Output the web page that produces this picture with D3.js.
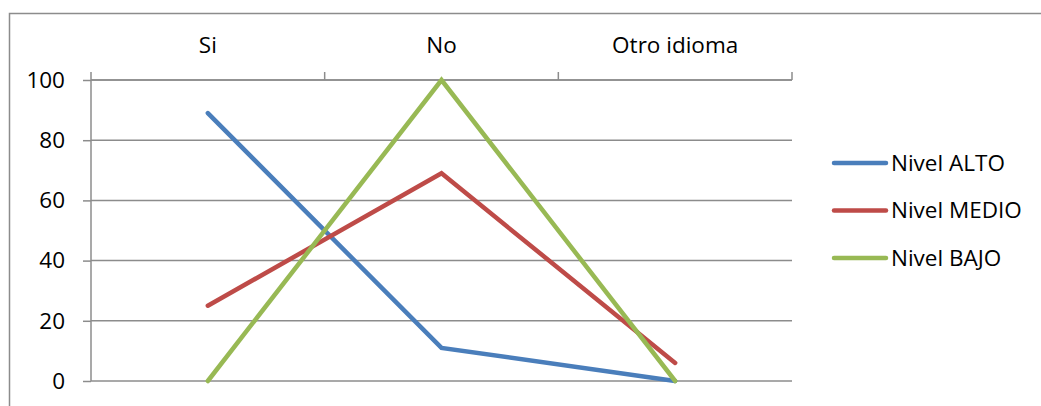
<!DOCTYPE html>
<html>
<head>
<meta charset="utf-8">
<script src="https://cdn.jsdelivr.net/npm/d3@7"></script>
<style>
  html, body { margin: 0; padding: 0; background: #fff; }
  svg { display: block; font-family: "Open Sans", Lato, sans-serif; }
</style>
</head>
<body>
<svg id="chart" width="1041" height="406"></svg>
<script>
// Categories along the (top) x axis
const categories = ["Si", "No", "Otro idioma"];
// Series values (percent)
const nivelAlto  = [89, 11, 0];
const nivelMedio = [25, 69, 6];
const nivelBajo  = [0, 100, 0];
const seriesNames = ["Nivel ALTO", "Nivel MEDIO", "Nivel BAJO"];
const yTicks = [0, 20, 40, 60, 80, 100];

const series = [
  { name: seriesNames[0], values: nivelAlto,  color: "#4a7ebb" },
  { name: seriesNames[1], values: nivelMedio, color: "#be4b48" },
  { name: seriesNames[2], values: nivelBajo,  color: "#98b954" }
];

const svg = d3.select("#chart");
const gridColor = "#8c8c8c";
const fontFamily = "'Open Sans', Lato, sans-serif";
const fontSize = 22.5;

// Outer chart frame (runs off the right and bottom edges)
svg.append("rect")
  .attr("x", 9.5).attr("y", 13.5)
  .attr("width", 1100).attr("height", 500)
  .attr("fill", "none").attr("stroke", gridColor).attr("stroke-width", 1.5);

const plot = { left: 91, right: 792, top: 80, bottom: 381 };

const x = d3.scaleBand().domain(categories).range([plot.left, plot.right]).padding(0);
const y = d3.scaleLinear().domain([0, 100]).range([plot.bottom, plot.top]);

// Horizontal gridlines
svg.append("g")
  .selectAll("line")
  .data(yTicks)
  .join("line")
  .attr("x1", plot.left).attr("x2", plot.right)
  .attr("y1", d => y(d)).attr("y2", d => y(d))
  .attr("stroke", gridColor).attr("stroke-width", 1.5);

// Y axis
const yAxis = svg.append("g")
  .attr("transform", `translate(${plot.left},0)`)
  .call(d3.axisLeft(y).tickValues(yTicks).tickSize(8).tickPadding(18));
yAxis.selectAll("path, line").attr("stroke", gridColor).attr("stroke-width", 1.5);
yAxis.select(".domain").attr("d", `M0,${plot.bottom}V${plot.top}`);
yAxis.selectAll("text").attr("font-size", fontSize).attr("fill", "#000")
  .attr("font-family", fontFamily);

// X axis on top, ticks at band boundaries
const xAxis = svg.append("g")
  .attr("transform", `translate(0,${plot.top})`)
  .call(d3.axisTop(x).tickSize(0).tickPadding(27));
xAxis.select(".domain").attr("stroke", gridColor).attr("stroke-width", 1.5)
  .attr("d", `M${plot.left},0H${plot.right}`);
xAxis.selectAll("text").attr("font-size", fontSize).attr("fill", "#000")
  .attr("font-family", fontFamily);
const bounds = categories.map(c => x(c)).concat([x(categories[categories.length - 1]) + x.bandwidth()]);
xAxis.append("g").selectAll("line")
  .data(bounds)
  .join("line")
  .attr("x1", d => d).attr("x2", d => d)
  .attr("y1", 0).attr("y2", -8)
  .attr("stroke", gridColor).attr("stroke-width", 1.5);

// Series lines
const line = d3.line()
  .x((d, i) => x(categories[i]) + x.bandwidth() / 2)
  .y(d => y(d));

svg.append("g")
  .selectAll("path")
  .data(series)
  .join("path")
  .attr("d", d => line(d.values))
  .attr("fill", "none")
  .attr("stroke", d => d.color)
  .attr("stroke-width", 4.5)
  .attr("stroke-linecap", "round")
  .attr("stroke-linejoin", "miter");

// Legend
const legend = svg.append("g").attr("transform", "translate(832,163)");
const item = legend.selectAll("g")
  .data(series)
  .join("g")
  .attr("transform", (d, i) => `translate(0,${i * 47.5})`);
item.append("line")
  .attr("x1", 2).attr("x2", 54).attr("y1", 0).attr("y2", 0)
  .attr("stroke", d => d.color).attr("stroke-width", 4.5)
  .attr("stroke-linecap", "round");
item.append("text")
  .attr("x", 59).attr("y", 0).attr("dy", "0.35em")
  .attr("font-size", fontSize).attr("fill", "#000")
  .attr("font-family", fontFamily)
  .text(d => d.name);
</script>
</body>
</html>
